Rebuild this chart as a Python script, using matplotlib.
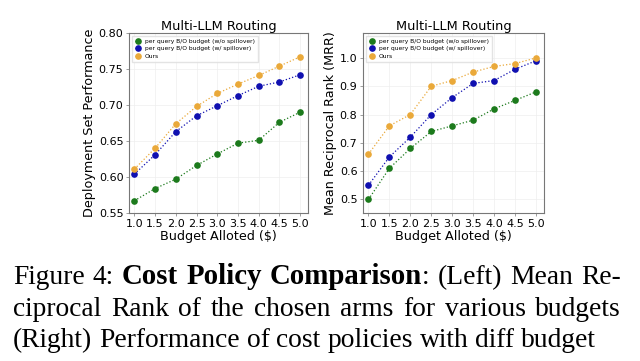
import numpy as np
import matplotlib
matplotlib.use('Agg')
import matplotlib.pyplot as plt

budget = [1.0, 1.5, 2.0, 2.5, 3.0, 3.5, 4.0, 4.5, 5.0]

# left panel: deployment set performance
perf_nospill = [0.567, 0.584, 0.597, 0.616, 0.632, 0.647, 0.651, 0.676, 0.690]
perf_spill = [0.604, 0.631, 0.663, 0.685, 0.699, 0.713, 0.726, 0.732, 0.742]
perf_ours = [0.611, 0.640, 0.674, 0.698, 0.716, 0.729, 0.741, 0.754, 0.767]

# right panel: MRR
mrr_nospill = [0.50, 0.61, 0.68, 0.74, 0.76, 0.78, 0.82, 0.85, 0.88]
mrr_spill = [0.55, 0.65, 0.72, 0.80, 0.86, 0.91, 0.92, 0.96, 0.99]
mrr_ours = [0.66, 0.76, 0.80, 0.90, 0.92, 0.95, 0.97, 0.98, 1.00]

labels = ['per query B/O budget (w/o spillover)',
          'per query B/O budget (w/ spillover)',
          'Ours']
colors = ['#1c7a1c', '#1010b0', '#eaa93a']

fig = plt.figure(figsize=(6.4, 3.61), dpi=100)
ax1 = fig.add_axes([129/640, 1-213/361, 179/640, 180/361])
ax2 = fig.add_axes([363/640, 1-213/361, 181/640, 180/361])


def draw(ax, series, ylabel, ylim, yticks):
    for s, c, lab in zip(series, colors, labels):
        ax.plot(budget, s, ':', color=c, lw=0.9, marker='o', ms=4.8,
                markeredgewidth=0, label=lab)
    ax.set_xlim(0.87, 5.19)
    ax.set_ylim(*ylim)
    ax.set_xticks(budget)
    ax.set_yticks(yticks)
    ax.grid(True, color='#eeeeee', lw=0.5)
    ax.set_axisbelow(True)
    for sp in ax.spines.values():
        sp.set_color('#777777')
        sp.set_linewidth(0.8)
    ax.tick_params(labelsize=8, length=2, width=0.5, color='#777777', pad=2)
    ax.set_title('Multi-LLM Routing', fontsize=9.3, pad=2)
    ax.set_xlabel('Budget Alloted ($)', fontsize=9.2, labelpad=1)
    ax.set_ylabel(ylabel, fontsize=9.2, labelpad=2)
    ax.legend(loc='upper left', fontsize=4.3, frameon=True, fancybox=False,
              edgecolor='#dddddd', borderpad=0.5, handletextpad=0.6,
              labelspacing=0.35, handlelength=1.0,
              bbox_to_anchor=(0.0, 1.0))


draw(ax1, [perf_nospill, perf_spill, perf_ours], 'Deployment Set Performance',
     (0.55, 0.80), [0.55, 0.60, 0.65, 0.70, 0.75, 0.80])
ax1.set_yticklabels(['%.2f' % v for v in ax1.get_yticks()])
draw(ax2, [mrr_nospill, mrr_spill, mrr_ours], 'Mean Reciprocal Rank (MRR)',
     (0.452, 1.088), [0.5, 0.6, 0.7, 0.8, 0.9, 1.0])

# caption, set word by word so the first two lines are justified
# each segment: (text, weight, glued to previous word)
caption = [
    [('Figure 4:', 'normal', False), ('Cost Policy Comparison', 'bold', False),
     (': (Left) Mean Re-', 'normal', True)],
    [('ciprocal Rank of the chosen arms for various budgets', 'normal', False)],
    [('(Right) Performance of cost policies with diff budget', 'normal', False)],
]
justify = [True, True, False]
baselines = [284, 316, 347]
x_left, x_right = 13, 621
fsize = 19.8
bold_size = 20.8
serif = 'Liberation Serif'

fig.canvas.draw()
r = fig.canvas.get_renderer()


def size_of(weight):
    return bold_size if weight == 'bold' else fsize


def wwidth(s, weight):
    t = fig.text(0, 0, s, fontsize=size_of(weight), family=serif, weight=weight)
    w = t.get_window_extent(r).width
    t.remove()
    return w


space = wwidth('a b', 'normal') - wwidth('ab', 'normal')
for line, just, yb in zip(caption, justify, baselines):
    words = []
    for seg, wt, glue in line:
        parts = [p for p in seg.split(' ') if p]
        for k, p in enumerate(parts):
            words.append([p, wt, glue and k == 0])
    widths = [wwidth(w[0], w[1]) for w in words]
    ngaps = sum(1 for w in words[1:] if not w[2])
    total = sum(widths)
    if just and ngaps:
        gap = (x_right - x_left - total) / ngaps
    else:
        gap = space
    x = x_left
    for i, (w, wd) in enumerate(zip(words, widths)):
        if i > 0 and not w[2]:
            x += gap
        fig.text(x/640, 1-yb/361, w[0], fontsize=size_of(w[1]), family=serif,
                 weight=w[1], va='baseline', ha='left')
        x += wd

fig.savefig('out.png', dpi=100)
